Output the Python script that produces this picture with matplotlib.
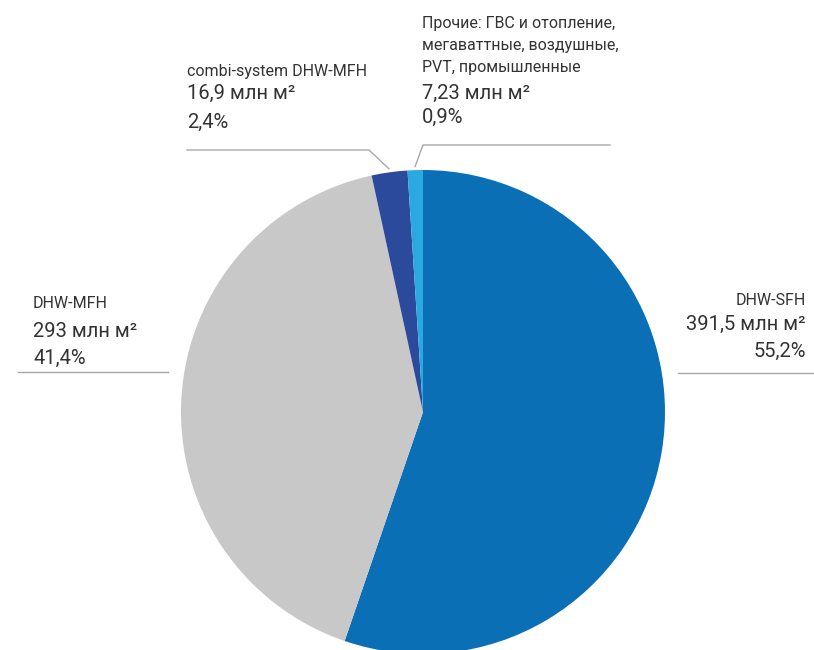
"""
Pie chart of collector area by application type, with outside labels
"""
import numpy as np
import matplotlib
matplotlib.use("Agg")
import matplotlib.pyplot as plt

# Data (млн м²)
categories = ["DHW-SFH", "DHW-MFH", "combi-system DHW-MFH",
              "Прочие: ГВС и отопление,\nмегаваттные, воздушные,\nPVT, промышленные"]
areas = [391.5, 293, 16.9, 7.23]
area_labels = ["391,5", "293", "16,9", "7,23"]
share_labels = ["55,2%", "41,4%", "2,4%", "0,9%"]
colors = ["#0a6fb5", "#c8c8c8", "#2b4a9b", "#2aa8e0"]

plt.rcParams['font.family'] = ['Roboto', 'DejaVu Sans']
TEXT = "#333333"
LINE = "#a8a8a8"

W, H = 814, 650
fig = plt.figure(figsize=(W / 100, H / 100), dpi=100)
ax = fig.add_axes([0, 0, 1, 1])

cx, cy, R = 423, H - 412, 242
wedges, _ = ax.pie(areas, colors=colors, startangle=90, counterclock=False,
                   center=(cx, cy), radius=R,
                   wedgeprops=dict(linewidth=0))
ax.set_xlim(0, W)
ax.set_ylim(0, H)
ax.set_aspect('equal')
ax.axis('off')


def edge_point(w, scale=1.0):
    ang = np.deg2rad((w.theta1 + w.theta2) / 2)
    return cx + R * scale * np.cos(ang), cy + R * scale * np.sin(ang)


def block(i, x, name_base, value_base, share_base, ha='left', name_step=22):
    """Name line(s) in small type, then value and share in larger type."""
    for k, line in enumerate(categories[i].split("\n")):
        ax.text(x, H - (name_base + k * name_step), line, ha=ha, va='baseline',
                fontsize=11.5, color=TEXT)
    ax.text(x, H - value_base, f"{area_labels[i]} млн м²", ha=ha,
            va='baseline', fontsize=14.5, color=TEXT)
    ax.text(x, H - share_base, share_labels[i], ha=ha, va='baseline',
            fontsize=14.5, color=TEXT)


# DHW-SFH (right)
block(0, 806, 305, 330, 357, ha='right')
ax.plot([678, W], [H - 373, H - 373], color=LINE, lw=1)

# DHW-MFH (left)
block(1, 33, 308, 337, 364)
ax.plot([18, 168], [H - 372, H - 372], color=LINE, lw=1)

# combi-system
block(2, 187, 76, 99, 128)
ex, ey = edge_point(wedges[2], 1.015)
ax.plot([187, 369, ex], [H - 150, H - 150, ey], color=LINE, lw=1)

# Прочие
block(3, 422, 28, 99, 123)
ex, ey = edge_point(wedges[3], 1.015)
ax.plot([610, 423, ex], [H - 145, H - 145, ey], color=LINE, lw=1)

fig.savefig("out.png", dpi=100)
